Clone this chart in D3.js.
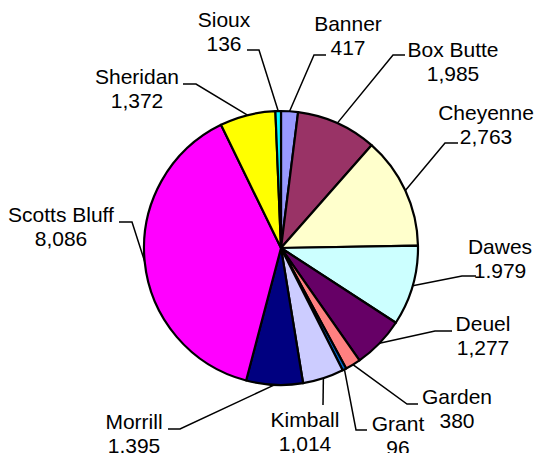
<!DOCTYPE html>
<html>
<head>
<meta charset="utf-8">
<script src="https://cdn.jsdelivr.net/npm/d3@7"></script>
<style>
  body { margin: 0; background: #fff; }
  svg { display: block; }
  text { font-family: Arial, "Liberation Sans", sans-serif; font-size: 21px; fill: #000; }
</style>
</head>
<body>
<svg width="538" height="453"></svg>
<script>
// counties, clockwise from 12 o'clock
var counties = ["Banner", "Box Butte", "Cheyenne", "Dawes", "Deuel", "Garden",
                "Grant", "Kimball", "Morrill", "Scotts Bluff", "Sheridan", "Sioux"];
var values = [417, 1985, 2763, 1979, 1277, 380, 96, 1014, 1395, 8086, 1372, 136];
// value text as printed on the chart
var valueLabels = ["417", "1,985", "2,763", "1.979", "1,277", "380", "96", "1,014",
                   "1,395", "8,086", "1,372", "136"];
var colors = ["#9999ff", "#993366", "#ffffcc", "#ccffff", "#660066", "#ff8080",
              "#0066cc", "#ccccff", "#000080", "#ff00ff", "#ffff00", "#00ffff"];

// label placement: text centre x, first baseline y, leader elbow and end
var labelLayout = {
  "Banner":       {x: 348, y: 31,  ex: 314, ey: 55,  hx: 326},
  "Box Butte":    {x: 453, y: 57,  ex: 393, ey: 55,  hx: 405},
  "Cheyenne":     {x: 486, y: 120, ex: 445, ey: 143, hx: 458},
  "Dawes":        {x: 500, y: 254, ex: 462, ey: 276, hx: 476},
  "Deuel":        {x: 483, y: 331, ex: 435, ey: 331, hx: 452},
  "Garden":       {x: 457, y: 404, ex: 407, ey: 404, hx: 418},
  "Grant":        {x: 398, y: 431, ex: 356, ey: 430, hx: 367},
  "Kimball":      {x: 305, y: 427, ex: 323, ey: 405, hx: 323},
  "Morrill":      {x: 134, y: 429, ex: 180, ey: 429, hx: 168},
  "Scotts Bluff": {x: 61,  y: 222, ex: 132, ey: 222, hx: 119},
  "Sheridan":     {x: 137, y: 84,  ex: 196, ey: 84,  hx: 183},
  "Sioux":        {x: 224, y: 27,  ex: 259, ey: 50,  hx: 247}
};

var svg = d3.select("svg"),
    cx = 281, cy = 248, radius = 137,
    g = svg.append("g").attr("transform", "translate(" + cx + "," + cy + ")");

var data = counties.map(function(c, i) {
  return {name: c, value: values[i], label: valueLabels[i], color: colors[i]};
});

var pie = d3.pie()
    .sort(null)
    .value(function(d) { return d.value; });

var arc = d3.arc()
    .innerRadius(0)
    .outerRadius(radius);

var arcs = pie(data);

// slices
g.selectAll("path.slice")
  .data(arcs)
  .enter().append("path")
    .attr("class", "slice")
    .attr("d", arc)
    .attr("fill", function(d) { return d.data.color; })
    .attr("stroke", "#000")
    .attr("stroke-width", 2.2)
    .attr("stroke-linejoin", "round");

// leader lines from the rim at the slice middle
svg.selectAll("polyline.leader")
  .data(arcs)
  .enter().append("polyline")
    .attr("class", "leader")
    .attr("fill", "none")
    .attr("stroke", "#000")
    .attr("stroke-width", 1.5)
    .attr("points", function(d) {
      var a = (d.startAngle + d.endAngle) / 2,
          p = [cx + radius * Math.sin(a), cy - radius * Math.cos(a)],
          l = labelLayout[d.data.name];
      return [p, [l.ex, l.ey], [l.hx, l.ey]].map(function(q) { return q.join(","); }).join(" ");
    });

// labels: name and value on two lines
var labels = svg.selectAll("text.label")
  .data(arcs)
  .enter().append("text")
    .attr("class", "label")
    .attr("text-anchor", "middle")
    .attr("x", function(d) { return labelLayout[d.data.name].x; })
    .attr("y", function(d) { return labelLayout[d.data.name].y; });

labels.append("tspan")
    .attr("x", function(d) { return labelLayout[d.data.name].x; })
    .text(function(d) { return d.data.name; });

labels.append("tspan")
    .attr("x", function(d) { return labelLayout[d.data.name].x; })
    .attr("dy", 24)
    .text(function(d) { return d.data.label; });
</script>
</body>
</html>
